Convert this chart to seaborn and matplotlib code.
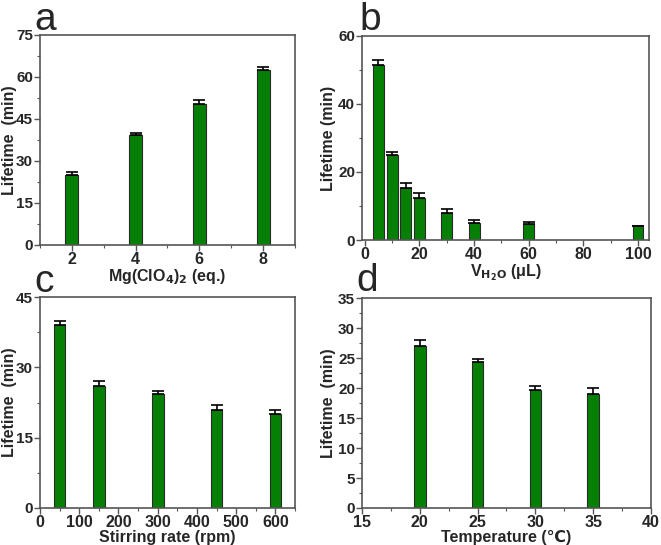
import matplotlib
matplotlib.use("Agg")
import matplotlib.pyplot as plt
import numpy as np
import pandas as pd
import seaborn as sns
from matplotlib.ticker import MultipleLocator

# a: Mg(ClO4)2 equivalents
mg_eq = [2, 4, 6, 8]
mg_life = [25.0, 39.3, 50.3, 62.5]
mg_err = [1.0, 0.7, 1.5, 1.2]

# b: water volume
h2o_vol = [5, 10, 15, 20, 30, 40, 60, 100]
h2o_life = [51.5, 25.0, 15.3, 12.3, 8.0, 5.0, 4.7, 4.0]
h2o_err = [1.5, 1.0, 1.5, 1.5, 1.0, 1.0, 0.7, 0.0]

# c: stirring rate
stir_rate = [50, 150, 300, 450, 600]
stir_life = [39.0, 26.0, 24.3, 21.0, 20.0]
stir_err = [1.0, 1.0, 0.6, 1.0, 1.0]

# d: temperature
temp = [20, 25, 30, 35]
temp_life = [27.0, 24.3, 19.7, 19.0]
temp_err = [1.0, 0.6, 0.6, 1.0]

sns.set_style("white")
NARROW = ["Liberation Sans Narrow", "Liberation Sans", "DejaVu Sans"]
plt.rcParams["font.family"] = NARROW
plt.rcParams["font.weight"] = "bold"
plt.rcParams["mathtext.fontset"] = "custom"
plt.rcParams["mathtext.rm"] = "Liberation Sans Narrow:bold"
plt.rcParams["mathtext.default"] = "rm"

GREEN = "#058005"
EDGE = "#2a2a2a"
SPINE = "#555555"

fig = plt.figure(figsize=(6.61, 5.45), dpi=100)

panels = [
    # x, y, err, rect, width, xlim, xmajor, xminor, ylim, ymajor, yminor,
    # xlabel, ylabel, ylabel x, letter position (fig px from top-left)
    (mg_eq, mg_life, mg_err, [0.0605, 0.5505, 0.3858, 0.3855], 0.2, (1, 9), 2, 1,
     (0, 75), 15, 7.5, "Mg(ClO$_4$)$_2$ (eq.)", "Lifetime  (min)", -0.09, "a", (34, 30)),
    (h2o_vol, h2o_life, h2o_err, [0.5477, 0.5596, 0.434, 0.3745], 0.8, (-1, 104), 20, 10,
     (0, 60), 20, 10, "V$_{H_2O}$ (μL)", "Lifetime (min)", -0.09, "b", (359, 30)),
    (stir_rate, stir_life, stir_err, [0.0605, 0.0679, 0.3858, 0.387], 0.3, (0, 650), 100, 50,
     (0, 45), 15, 7.5, "Stirring rate (rpm)", "Lifetime  (min)", -0.09, "c", (34, 292)),
    (temp, temp_life, temp_err, [0.5477, 0.0679, 0.437, 0.385], 0.2, (15, 40), 5, 2.5,
     (0, 35), 5, 2.5, "Temperature (℃)", "Lifetime  (min)", -0.09, "d", (356, 291)),
]

for (xs, ys, es, rect, w, xlim, xmaj, xmin, ylim, ymaj, ymin,
     xlab, ylab, ylab_x, letter, letter_pos) in panels:
    ax = fig.add_axes(rect)
    df = pd.DataFrame({"x": xs, "y": ys})
    sns.barplot(data=df, x="x", y="y", native_scale=True, width=w,
                color=GREEN, saturation=1, edgecolor=EDGE, linewidth=0.8, ax=ax)
    ax.errorbar(xs, ys, yerr=[np.zeros(len(es)), es], fmt="none",
                ecolor="black", elinewidth=1.2, capsize=4, capthick=1.2)
    ax.set_xlim(*xlim)
    ax.set_ylim(*ylim)
    ax.xaxis.set_major_locator(MultipleLocator(xmaj))
    ax.xaxis.set_minor_locator(MultipleLocator(xmin))
    ax.yaxis.set_major_locator(MultipleLocator(ymaj))
    ax.yaxis.set_minor_locator(MultipleLocator(ymin))
    ax.tick_params(which="major", direction="out", length=4, width=1,
                   color=SPINE, labelsize=11.5, pad=1, bottom=True, left=True)
    ax.tick_params(axis="y", which="major", labelsize=11)
    ax.tick_params(which="minor", direction="out", length=2, width=0.8,
                   color=SPINE, bottom=True, left=True)
    for lab in ax.get_xticklabels() + ax.get_yticklabels():
        lab.set_fontweight("bold")
    for sp in ax.spines.values():
        sp.set_color(SPINE)
        sp.set_linewidth(1.2)
    ax.set_xlabel(xlab, fontsize=11.5, fontweight="bold", labelpad=0)
    ax.set_ylabel(ylab, fontsize=11.5, fontweight="bold",
                  family=["Liberation Sans", "DejaVu Sans"])
    ax.yaxis.set_label_coords(ylab_x, 0.5)
    fig.text(letter_pos[0] / 661, 1 - letter_pos[1] / 545, letter, fontsize=28,
             fontweight="normal", ha="left", va="baseline")

fig.savefig("out.png", dpi=100)
